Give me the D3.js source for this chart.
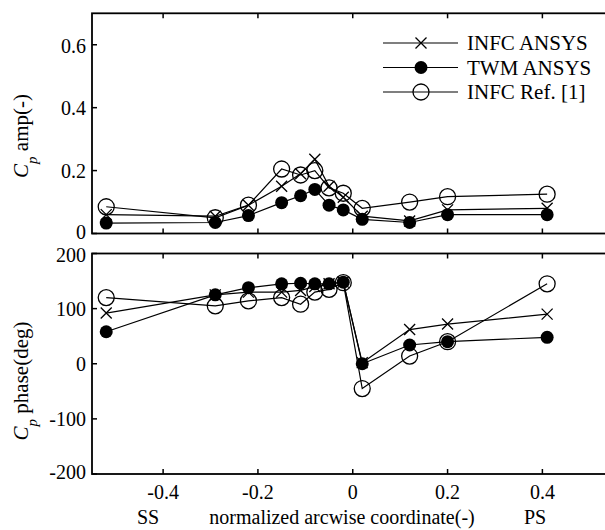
<!DOCTYPE html>
<html>
<head>
<meta charset="utf-8">
<script src="https://cdn.jsdelivr.net/npm/d3@7"></script>
<style>
  body { margin: 0; background: #fff; }
  svg text { font-family: "Liberation Serif", "DejaVu Serif", serif; fill: #000; }
</style>
</head>
<body>
<div id="chart"></div>
<script>
// arcwise coordinate of each probe
var xPos = [-0.52, -0.29, -0.22, -0.15, -0.11, -0.08, -0.05, -0.02, 0.02, 0.12, 0.2, 0.41];

// Cp amplitude
var ampInfcAnsys = [0.06, 0.055, 0.09, 0.15, 0.19, 0.236, 0.15, 0.115, 0.055, 0.04, 0.075, 0.08];
var ampTwmAnsys  = [0.033, 0.035, 0.057, 0.098, 0.12, 0.14, 0.09, 0.075, 0.045, 0.035, 0.06, 0.06];
var ampInfcRef   = [0.085, 0.05, 0.09, 0.205, 0.186, 0.2, 0.145, 0.128, 0.08, 0.10, 0.117, 0.125];

// Cp phase (deg)
var phInfcAnsys = [92, 125, 130, 130, 133, 140, 145, 148, 2, 62, 72, 90];
var phTwmAnsys  = [58, 125, 138, 145, 146, 145, 145, 148, 0, 34, 40, 48];
var phInfcRef   = [120, 105, 114, 120, 108, 130, 135, 147, -45, 14, 40, 145];

var xTicks = [-0.4, -0.2, 0, 0.2, 0.4];
var ampTicks = [0, 0.2, 0.4, 0.6];
var phTicks = [-200, -100, 0, 100, 200];

var seriesNames = ["INFC ANSYS", "TWM ANSYS", "INFC Ref. [1]"];
var seriesMarks = ["cross", "dot", "ring"];

var width = 605, height = 530;
var svg = d3.select("#chart").append("svg")
    .attr("width", width).attr("height", height);

var x = d3.scaleLinear().domain([-0.55, 0.55]).range([92, 613.5]);
var yAmp = d3.scaleLinear().domain([0, 0.7]).range([233.5, 13.3]);
var yPh = d3.scaleLinear().domain([-200, 200]).range([474, 253.5]);

// matlab style labels: plain hyphen, no trailing zeros
function fmt(t) {
    return t === 0 ? "0" : String(+t.toFixed(2));
}

function drawMarker(g, kind, cx, cy) {
    if (kind === "cross") {
        var s = 5.5;
        g.append("path")
            .attr("d", "M" + (cx - s) + "," + (cy - s) + "L" + (cx + s) + "," + (cy + s) +
                       "M" + (cx - s) + "," + (cy + s) + "L" + (cx + s) + "," + (cy - s))
            .attr("stroke", "#000").attr("stroke-width", 1.3).attr("fill", "none");
    } else if (kind === "dot") {
        g.append("circle").attr("cx", cx).attr("cy", cy).attr("r", 6.5).attr("fill", "#000");
    } else {
        g.append("circle").attr("cx", cx).attr("cy", cy).attr("r", 8)
            .attr("fill", "none").attr("stroke", "#000").attr("stroke-width", 1.3);
    }
}

function drawPanel(y, ticks, series) {
    var g = svg.append("g");
    var y0 = y.range()[0], y1 = y.range()[1];
    var x0 = x.range()[0], x1 = x.range()[1];

    var line = d3.line()
        .x(function(d, i) { return x(xPos[i]); })
        .y(function(d) { return y(d); });

    series.forEach(function(vals, k) {
        g.append("path").datum(vals)
            .attr("d", line)
            .attr("fill", "none").attr("stroke", "#000").attr("stroke-width", 1.2);
        vals.forEach(function(v, i) {
            drawMarker(g, seriesMarks[k], x(xPos[i]), y(v));
        });
    });

    // frame
    g.append("rect").attr("x", x0).attr("y", y1)
        .attr("width", x1 - x0).attr("height", y0 - y1)
        .attr("fill", "none").attr("stroke", "#000").attr("stroke-width", 1.8);

    // inward ticks
    var tk = 5;
    xTicks.forEach(function(t) {
        g.append("line").attr("x1", x(t)).attr("x2", x(t)).attr("y1", y0).attr("y2", y0 - tk)
            .attr("stroke", "#000").attr("stroke-width", 1.5);
        g.append("line").attr("x1", x(t)).attr("x2", x(t)).attr("y1", y1).attr("y2", y1 + tk)
            .attr("stroke", "#000").attr("stroke-width", 1.5);
    });
    var lo = d3.min(ticks), hi = d3.max(ticks);
    ticks.forEach(function(t) {
        // nudge the end labels so the two panels' labels do not collide
        var dy = t === lo ? 5 : (t === hi ? 8 : 7);
        g.append("line").attr("x1", x0).attr("x2", x0 + tk).attr("y1", y(t)).attr("y2", y(t))
            .attr("stroke", "#000").attr("stroke-width", 1.5);
        g.append("text").attr("x", x0 - 6).attr("y", y(t) + dy)
            .attr("text-anchor", "end").attr("font-size", 20)
            .text(fmt(t));
    });
    return g;
}

drawPanel(yAmp, ampTicks, [ampInfcAnsys, ampTwmAnsys, ampInfcRef]);
drawPanel(yPh, phTicks, [phInfcAnsys, phTwmAnsys, phInfcRef]);

// x tick labels
xTicks.forEach(function(t) {
    svg.append("text").attr("x", x(t)).attr("y", 499)
        .attr("text-anchor", "middle").attr("font-size", 20)
        .text(fmt(t));
});
svg.append("text").attr("x", 148).attr("y", 524).attr("text-anchor", "middle").attr("font-size", 20).text("SS");
svg.append("text").attr("x", 342).attr("y", 524).attr("text-anchor", "middle").attr("font-size", 20).text("normalized arcwise coordinate(-)");
svg.append("text").attr("x", 535).attr("y", 524).attr("text-anchor", "middle").attr("font-size", 20).text("PS");

// y labels
function yLabel(cy, rest) {
    var t = svg.append("text")
        .attr("transform", "translate(28," + cy + ") rotate(-90)")
        .attr("text-anchor", "middle").attr("font-size", 21);
    t.append("tspan").attr("font-style", "italic").text("C");
    t.append("tspan").attr("font-style", "italic").attr("font-size", 15).attr("dy", 9).text("p");
    t.append("tspan").attr("dy", -9).text(" " + rest);
}
yLabel(136, "amp(-)");
yLabel(381, "phase(deg)");

// legend
var legend = svg.append("g");
seriesNames.forEach(function(name, k) {
    var cy = 43 + k * 24.5;
    legend.append("line").attr("x1", 383).attr("x2", 458).attr("y1", cy).attr("y2", cy)
        .attr("stroke", "#000").attr("stroke-width", 1.2);
    drawMarker(legend, seriesMarks[k], 421, cy);
    legend.append("text").attr("x", 467).attr("y", cy + 7).attr("font-size", 21).text(name);
});
</script>
</body>
</html>
